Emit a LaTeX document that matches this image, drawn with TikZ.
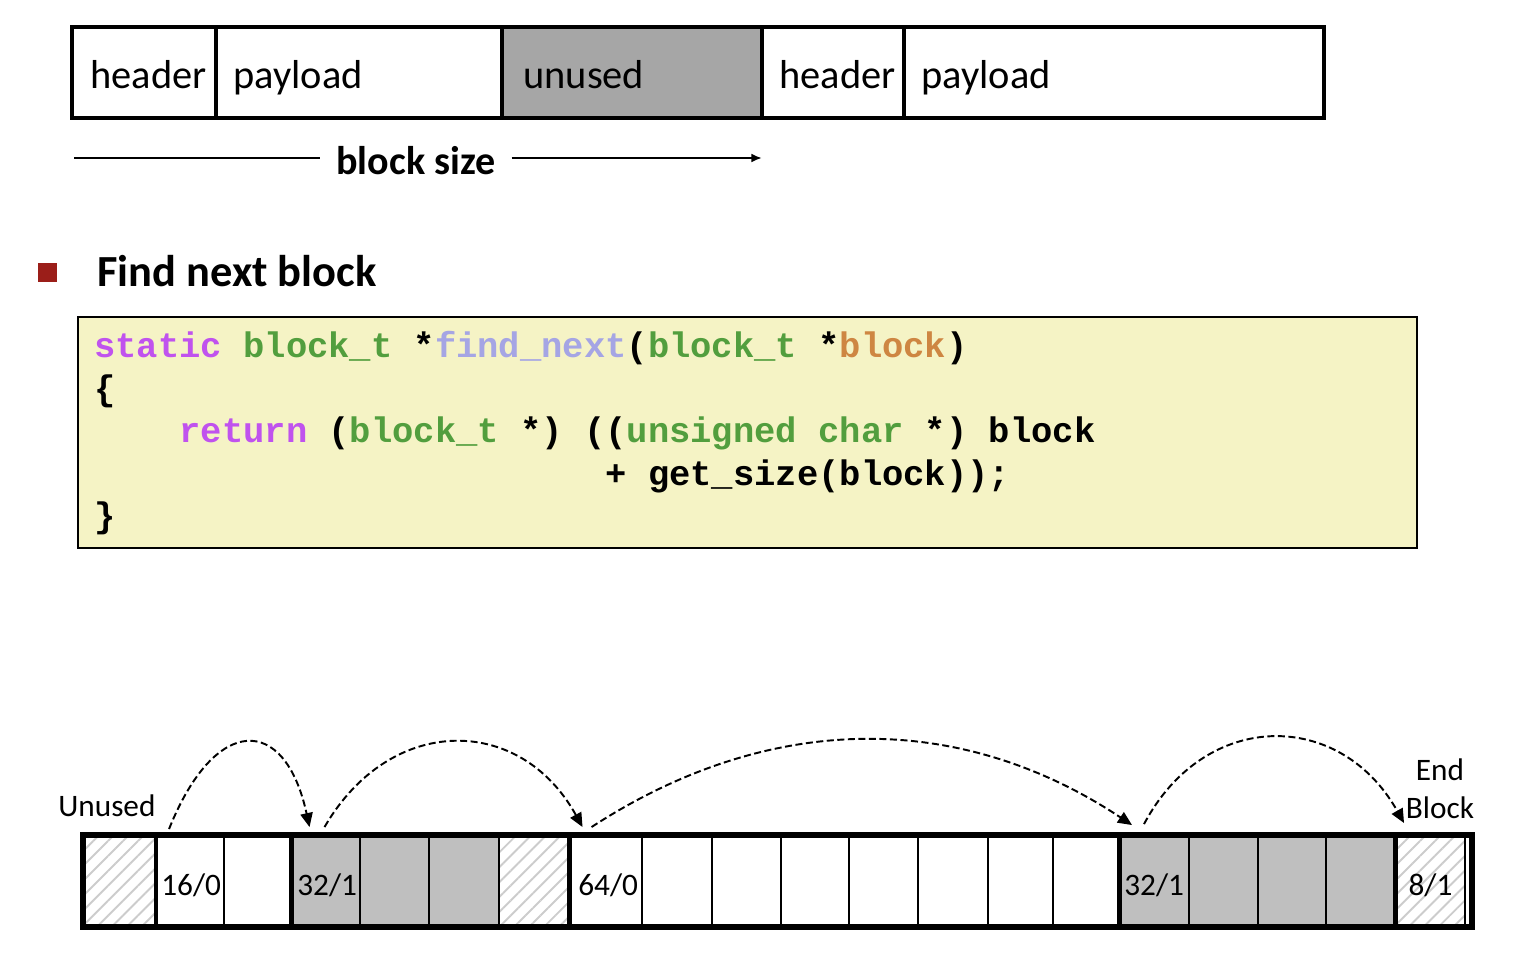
\documentclass[tikz,border=0pt]{standalone}
\usepackage{fontspec}
\setmainfont{Carlito}
\newfontfamily\codefont{Liberation Mono}
\usetikzlibrary{arrows.meta,patterns.meta}

\definecolor{unusedgray}{RGB}{166,166,166}
\definecolor{allocgray}{RGB}{191,191,191}
\definecolor{codebg}{RGB}{245,243,197}
\definecolor{kwpurple}{RGB}{192,82,238}
\definecolor{typegreen}{RGB}{82,158,62}
\definecolor{fnlavender}{RGB}{165,165,228}
\definecolor{argorange}{RGB}{206,134,66}
\definecolor{bulletred}{RGB}{155,30,25}

\newcommand{\kwd}[1]{\textcolor{kwpurple}{#1}}
\newcommand{\tyname}[1]{\textcolor{typegreen}{#1}}
\newcommand{\fnname}[1]{\textcolor{fnlavender}{#1}}
\newcommand{\argname}[1]{\textcolor{argorange}{#1}}

\begin{document}
\begin{tikzpicture}[
        x=0.02cm, y=-0.02cm,
        field/.style={draw, line width=2.6pt, minimum height=1.82cm, inner sep=0pt},
        lbl/.style={font={\fontsize{23}{27}\selectfont}, inner sep=0pt},
        small/.style={font={\fontsize{17.8}{21.6}\selectfont}, inner sep=0pt},
        codeline/.style={font={\codefont\bfseries\fontsize{20.2}{24}\selectfont}, inner sep=0pt, anchor=base west},
        cell/.style={draw, line width=1.1pt, minimum height=1.82cm, inner sep=0pt},
        freecell/.style={fill=white},
        usedcell/.style={fill=allocgray},
        padcell/.style={pattern={Lines[angle=45,distance=6pt,line width=1.1pt]}, pattern color=gray!40},
        hop/.style={draw, dash pattern=on 4pt off 2pt, line width=1.1pt, -{Triangle[length=8pt,width=7pt]}}
    ]
    \useasboundingbox (0,0) rectangle (1518,964);

    % Block layout
    \node[field] (hdrA) at (144,72.5) [minimum width=2.88cm] {};
    \node[field] (payA) at (359,72.5) [minimum width=5.72cm] {};
    \node[field, fill=unusedgray] (unusedA) at (632,72.5) [minimum width=5.2cm] {};
    \node[field] (hdrB) at (833,72.5) [minimum width=2.84cm] {};
    \node[field] (payB) at (1114,72.5) [minimum width=8.4cm] {};

    \node[lbl, anchor=base west] (hdrAtxt) at (90,88) {header};
    \node[lbl, anchor=base west] (payAtxt) at (233,88) {payload};
    \node[lbl, anchor=base west] (unusedAtxt) at (523,88) {unused};
    \node[lbl, anchor=base west] (hdrBtxt) at (779,88) {header};
    \node[lbl, anchor=base west] (payBtxt) at (921,88) {payload};

    % Block size
    \coordinate (bsl) at (74,158);
    \coordinate (bsr) at (762,158);
    \node[lbl, font={\fontsize{22.8}{27}\selectfont\bfseries}, anchor=base, inner xsep=9pt] (bsize) at (416,174) {block size};
    \draw[line width=1.2pt] (bsl) -- (bsl -| bsize.west);
    \draw[line width=1.2pt, -{Latex[length=6pt,width=5pt]}] (bsize.east |- bsr) -- (bsr);

    % Heading
    \node[fill=bulletred, minimum size=0.38cm, inner sep=0pt] (bullet) at (47.5,272.5) {};
    \node[lbl, font={\fontsize{25.3}{30}\selectfont\bfseries}, anchor=base west] (heading) at (97,286) {Find next block};

    % Code
    \node[draw, line width=1pt, fill=codebg, minimum width=26.78cm, minimum height=4.62cm] (codebox) at (747.5,432.5) {};
    \node[codeline] (code1) at (94,357) {\kwd{static} \tyname{block\_t} *\fnname{find\_next}(\tyname{block\_t} *\argname{block})};
    \node[codeline] (code2) at (94,400) {\{};
    \node[codeline] (code3) at (94,442) {\hphantom{xxxx}\kwd{return} (\tyname{block\_t} *) ((\tyname{unsigned char} *) block};
    \node[codeline] (code4) at (94,485) {\hphantom{xxxxxxxxxxxxxxxxxxxxxxxx}+ get\_size(block));};
    \node[codeline] (code5) at (94,527) {\}};

    % Heap
    \foreach \i/\xl/\xr/\kind in {0/84/157/padcell,1/157/224/freecell,2/224/292.5/freecell,
            3/292.5/360/usedcell,4/360/429/usedcell,5/429/499/usedcell,6/499/570.5/padcell,
            7/570.5/642/freecell,8/642/712/freecell,9/712/781/freecell,10/781/849/freecell,
            11/849/918/freecell,12/918/988/freecell,13/988/1053/freecell,14/1053/1120/freecell,
            15/1120/1189/usedcell,16/1189/1258/usedcell,17/1258/1326/usedcell,18/1326/1396/usedcell,
            19/1396/1465/padcell}
        \node[cell, \kind, minimum width={(\xr-\xl)*0.02cm}] (c\i) at ({(\xl+\xr)/2},881.5) {};

    \coordinate (heapend) at (1472,927);
    \foreach \i in {1,3,7,15,19}
        \draw[line width=2.8pt] (c\i.north west) -- (c\i.south west);
    \draw[line width=3.4pt] (c0.north west) rectangle (heapend);

    \node[small, anchor=base west] (h1) at (161,895) {16/0};
    \node[small, anchor=base west] (h3) at (297,895) {32/1};
    \node[small, anchor=base west] (h7) at (578,895) {64/0};
    \node[small, anchor=base west] (h15) at (1124,895) {32/1};
    \node[small, anchor=base] (h19) at (c19.center |- 0,895) {8/1};

    \node[small, anchor=base west] (unusedlbl) at (58,816) {Unused};
    \node[small, align=center] (endlbl) at (1440,789) {End\\Block};

    % Next-block hops
    \coordinate (s1) at ([shift={(13,-6)}]c1.north west);
    \coordinate (e1) at ([shift={(18,-8)}]c3.north west);
    \coordinate (s2) at ([shift={(33,-8)}]c3.north west);
    \coordinate (e2) at ([shift={(13,-8)}]c7.north west);
    \coordinate (s3) at ([shift={(22,-8)}]c7.north west);
    \coordinate (e3) at ([shift={(13,-10)}]c15.north west);
    \coordinate (s4) at ([shift={(25,-11)}]c15.north west);
    \coordinate (e4) at ([shift={(9,-12)}]c19.north west);

    \draw[hop] (s1) .. controls (215,714) and (285,714) .. (e1);
    \draw[hop] (s2) .. controls (390,714) and (520,714) .. (e2);
    \draw[hop] (s3) .. controls (770,711) and (960,711) .. (e3);
    \draw[hop] (s4) .. controls (1205,709) and (1340,709) .. (e4);

\end{tikzpicture}
\end{document}
